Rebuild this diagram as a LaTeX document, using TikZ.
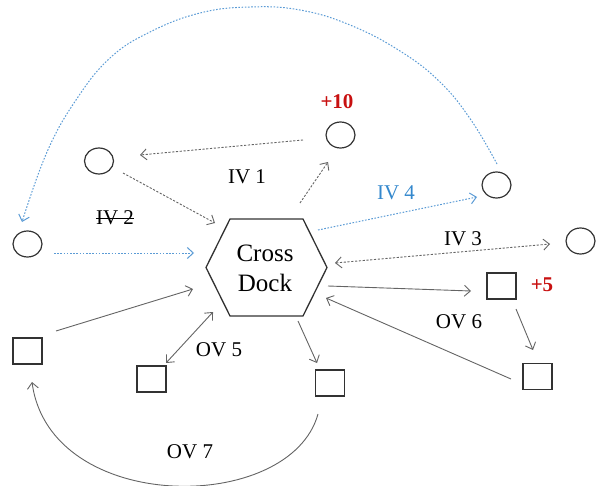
\documentclass[tikz,border=0pt]{standalone}
\usepackage{fontspec}
\setmainfont{Liberation Serif}
\usetikzlibrary{shapes.geometric,arrows.meta}
\definecolor{lblue}{RGB}{91,155,213}
\definecolor{tblue}{RGB}{52,136,205}
\definecolor{dred}{RGB}{200,16,16}
\definecolor{agray}{RGB}{100,100,100}
\definecolor{sgray}{RGB}{50,50,50}
\tikzset{
  circ/.style={ellipse,draw=sgray,line width=1.2pt,minimum width=29pt,minimum height=26pt,inner sep=0pt},
  sq/.style={rectangle,draw=sgray,line width=1.3pt,minimum width=29pt,minimum height=26pt,inner sep=0pt},
  tip/.style={-{Straight Barb[length=6pt,width=11pt]}},
  dtip/.style={{Straight Barb[length=6pt,width=11pt]}-{Straight Barb[length=6pt,width=11pt]}},
  ivarrow/.style={tip,draw=agray,line width=0.9pt,dash pattern=on 2.2pt off 1.6pt},
  ivdouble/.style={dtip,draw=agray,line width=0.9pt,dash pattern=on 2.2pt off 1.6pt},
  bluearrow/.style={tip,draw=lblue,line width=1pt,dash pattern=on 1.6pt off 1.6pt},
  ovarrow/.style={tip,draw=agray,line width=0.9pt},
  ovdouble/.style={dtip,draw=agray,line width=0.9pt},
  lbl/.style={font=\fontsize{21}{24}\selectfont,inner sep=0pt},
  bonus/.style={font=\fontsize{21}{24}\selectfont\bfseries,text=dred,inner sep=0pt}
}
\begin{document}
\begin{tikzpicture}[x=1pt,y=-1pt]
\useasboundingbox (0,0) rectangle (601,486);
% hexagon
\draw[line width=1.3pt,draw=sgray] (230,219) -- (303,219) -- (327,267.5) -- (303,316) -- (230,316) -- (206,267.5) -- cycle;
\node[align=center,font=\fontsize{25}{30}\selectfont,inner sep=0pt] (hex) at (265,268) {Cross\\Dock};
% inbound circles
\node[circ] (c1) at (340.5,135) {};
\node[circ] (c2) at (99,161) {};
\node[circ] (c3) at (27.5,244) {};
\node[circ] (c4) at (496.5,185) {};
\node[circ] (c5) at (580.5,241) {};
% outbound squares
\node[sq] (s1) at (27.5,351) {};
\node[sq] (s2) at (151.5,379) {};
\node[sq] (s3) at (330,383) {};
\node[sq] (s4) at (501.5,286) {};
\node[sq] (s5) at (537.5,376.5) {};
% connector ends
\coordinate (a1s) at (303,140); \coordinate (a1e) at (140,155);
\coordinate (a2s) at (123,173); \coordinate (a2e) at (215,223);
\coordinate (a3s) at (300,203); \coordinate (a3e) at (328,162);
\coordinate (a4s) at (318,230); \coordinate (a4e) at (477,197);
\coordinate (a5s) at (497,164); \coordinate (a5e) at (22,222);
\coordinate (a6s) at (54,253);  \coordinate (a6e) at (194,253);
\coordinate (a7s) at (335,263); \coordinate (a7e) at (550,244);
\coordinate (b1s) at (328,286); \coordinate (b1e) at (471,291);
\coordinate (b2s) at (516,309); \coordinate (b2e) at (533,350);
\coordinate (b3s) at (511,379); \coordinate (b3e) at (326,298);
\coordinate (b4s) at (298,321); \coordinate (b4e) at (317,363);
\coordinate (b5s) at (318,414); \coordinate (b5e) at (32,382);
\coordinate (b6s) at (56,331);  \coordinate (b6e) at (193,289);
\coordinate (b7s) at (166,363); \coordinate (b7e) at (213,312);
% inbound connectors
\draw[ivarrow] (a1s) -- (a1e);
\draw[ivarrow] (a2s) -- (a2e);
\draw[ivarrow] (a3s) -- (a3e);
\draw[bluearrow] (a4s) -- (a4e);
\draw[bluearrow] plot[smooth,tension=0.7] coordinates {(a5s) (471,120) (440,82) (400,51) (350,25) (300,10) (250,7) (200,13) (150,32) (110,58) (76,100) (47,152) (a5e)};
\draw[bluearrow] (a6s) -- (a6e);
\draw[ivdouble] (a7s) -- (a7e);
% outbound connectors
\draw[ovarrow] (b1s) -- (b1e);
\draw[ovarrow] (b2s) -- (b2e);
\draw[ovarrow] (b3s) -- (b3e);
\draw[ovarrow] (b4s) -- (b4e);
\draw[ovarrow] (b5s) .. controls (290,515) and (50,515) .. (b5e);
\draw[ovarrow] (b6s) -- (b6e);
\draw[ovdouble] (b7s) -- (b7e);
% labels
\node[lbl] (iv1) at (247,177) {IV 1};
\node[lbl] (iv2) at (115,218) {IV 2};
\draw[line width=1pt] (iv2.west) -- (iv2.east);
\node[lbl,text=tblue] (iv4) at (396,193) {IV 4};
\node[lbl] (iv3) at (463,239) {IV 3};
\node[bonus] (p10) at (337,102) {+10};
\node[bonus] (p5) at (542,285) {+5};
\node[lbl] (ov5) at (219,350) {OV 5};
\node[lbl] (ov6) at (459,322) {OV 6};
\node[lbl] (ov7) at (190,452) {OV 7};
\end{tikzpicture}
\end{document}
